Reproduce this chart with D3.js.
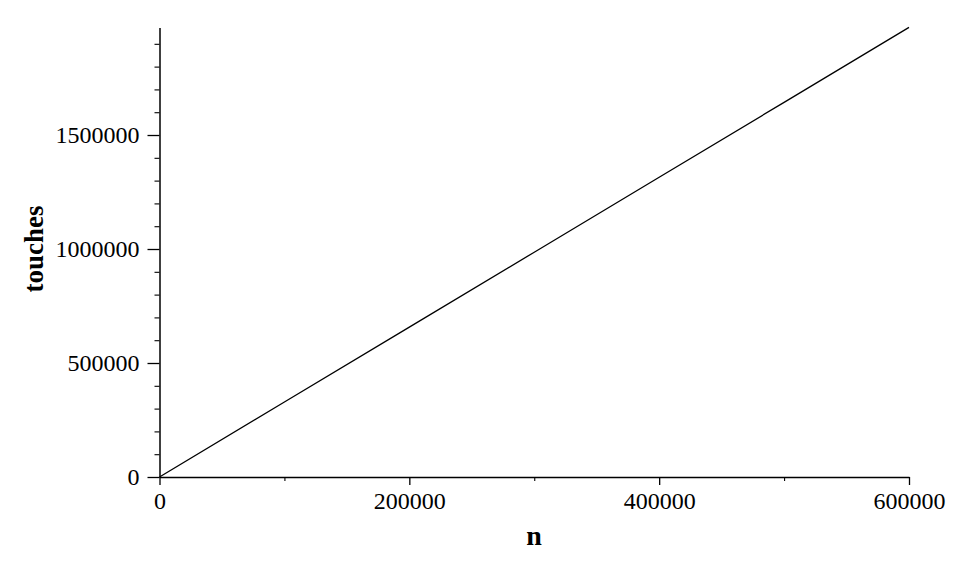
<!DOCTYPE html>
<html>
<head>
<meta charset="utf-8">
<script src="https://cdn.jsdelivr.net/npm/d3@7"></script>
<style>
  body { margin: 0; background: #fff; }
  svg { display: block; }
  text { font-family: "Liberation Serif", "Times New Roman", serif; fill: #000; }
</style>
</head>
<body>
<div id="container"></div>
<script>
let width = 972;
let height = 566;

// values
let nValues = [0, 100000, 200000, 300000, 400000, 500000, 600000];
let touches = [0, 328700, 657300, 986000, 1314700, 1643300, 1972000];

let xTicks = [0, 200000, 400000, 600000];
let xMinor = [100000, 300000, 500000];
let yTicks = [0, 500000, 1000000, 1500000];
let yMinor = [100000, 200000, 300000, 400000, 600000, 700000, 800000, 900000,
  1100000, 1200000, 1300000, 1400000, 1600000, 1700000, 1800000, 1900000];

let xTitle = "n";
let yTitle = "touches";

// 画布
let svg = d3.select("#container")
  .append("svg")
  .attr("width", width)
  .attr("height", height);

let x = d3.scaleLinear().domain([0, 600000]).range([159.5, 909]);
let y = d3.scaleLinear().domain([0, 1972000]).range([477, 27.4]);

// x 轴 次刻度
let xAxisMinor = svg.append("g").attr("transform", `translate(0,${y(0)})`)
  .call(d3.axisBottom(x).tickValues(xMinor).tickSize(4).tickFormat(""));
xAxisMinor.select(".domain").remove();
xAxisMinor.selectAll(".tick line").attr("stroke-width", 1.1);

// x 轴 主刻度
let xAxis = svg.append("g").attr("transform", `translate(0,${y(0)})`)
  .call(d3.axisBottom(x).tickValues(xTicks).tickSize(8).tickSizeOuter(0).tickFormat(d => d));
xAxis.select(".domain").attr("stroke-width", 1.5);
xAxis.selectAll(".tick line").attr("stroke-width", 1.3);
xAxis.selectAll(".tick text")
  .attr("font-size", 24)
  .attr("font-family", "Liberation Serif")
  .attr("y", 32)
  .attr("dy", "0");

// y 轴 次刻度
let yAxisMinor = svg.append("g").attr("transform", `translate(${x(0)},0)`)
  .call(d3.axisLeft(y).tickValues(yMinor).tickSize(5).tickFormat(""));
yAxisMinor.select(".domain").remove();
yAxisMinor.selectAll(".tick line").attr("stroke-width", 1.1);

// y 轴 主刻度
let yAxis = svg.append("g").attr("transform", `translate(${x(0)},0)`)
  .call(d3.axisLeft(y).tickValues(yTicks).tickSize(12).tickSizeOuter(0).tickFormat(d => d));
yAxis.select(".domain").attr("stroke-width", 1.5);
yAxis.selectAll(".tick line").attr("stroke-width", 1.3);
yAxis.selectAll(".tick text")
  .attr("font-size", 24)
  .attr("font-family", "Liberation Serif")
  .attr("x", -20);

// 曲线
let line = d3.line()
  .x((d, i) => x(nValues[i]))
  .y(d => y(d));
svg.append("path")
  .datum(touches)
  .attr("fill", "none")
  .attr("stroke", "#000")
  .attr("stroke-width", 1.3)
  .attr("d", line);

// 标题
svg.append("text")
  .attr("x", 534)
  .attr("y", 545)
  .attr("text-anchor", "middle")
  .attr("font-weight", "bold")
  .attr("font-size", 28)
  .text(xTitle);

svg.append("text")
  .attr("transform", "translate(43,249) rotate(-90)")
  .attr("text-anchor", "middle")
  .attr("font-weight", "bold")
  .attr("font-size", 27)
  .text(yTitle);
</script>
</body>
</html>
